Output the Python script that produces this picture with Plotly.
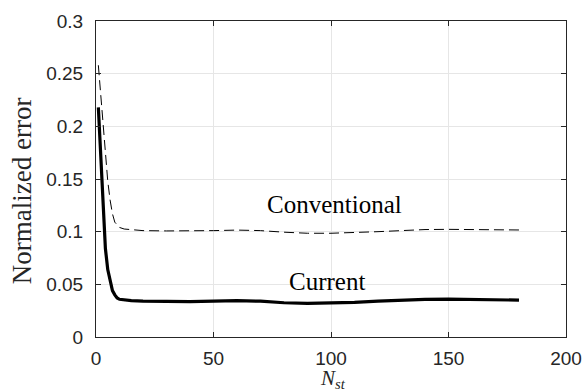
import plotly.graph_objects as go

x_conv = [1, 2, 3, 4, 5, 6, 7, 8, 9, 10, 12, 15, 20, 30, 40, 50, 60, 70, 80, 90,
          100, 110, 120, 130, 140, 150, 160, 170, 180]
y_conv = [0.258, 0.232, 0.202, 0.172, 0.148, 0.130, 0.117, 0.109, 0.106, 0.104,
          0.1025, 0.1018, 0.101, 0.1007, 0.1007, 0.101, 0.1015, 0.101, 0.0995, 0.0985,
          0.0985, 0.099, 0.100, 0.101, 0.102, 0.1022, 0.1022, 0.102, 0.1016]

x_curr = [1, 2, 3, 4, 5, 6, 7, 8, 9, 10, 12, 15, 20, 30, 40, 50, 60, 70, 80, 90,
          100, 110, 120, 130, 140, 150, 160, 170, 180]
y_curr = [0.218, 0.170, 0.118, 0.084, 0.064, 0.052, 0.044, 0.040, 0.037, 0.0358,
          0.035, 0.0345, 0.034, 0.0335, 0.0335, 0.034, 0.0345, 0.034, 0.0325, 0.032,
          0.0322, 0.0328, 0.034, 0.035, 0.0357, 0.036, 0.0358, 0.0355, 0.035]

x_ticks = [0, 50, 100, 150, 200]
y_ticks = [0, 0.05, 0.1, 0.15, 0.2, 0.25, 0.3]
y_tick_text = ["0", "0.05", "0.1", "0.15", "0.2", "0.25", "0.3"]

label_conv = "Conventional"
label_curr = "Current"
x_title = "<i>N</i><sub><i>st</i></sub>"
y_title = "Normalized error"

serif = "Liberation Serif, DejaVu Serif, serif"
sans = "Liberation Sans, Arial, sans-serif"

fig = go.Figure()
fig.add_trace(go.Scatter(x=x_conv, y=y_conv, mode="lines",
                         line=dict(color="black", width=1, dash="10px,5px"),
                         name=label_conv, showlegend=False))
fig.add_trace(go.Scatter(x=x_curr, y=y_curr, mode="lines",
                         line=dict(color="black", width=3.2),
                         name=label_curr, showlegend=False))

fig.add_annotation(x=101.5, y=0.126, text=label_conv, showarrow=False,
                   font=dict(family=serif, size=25, color="black"))
fig.add_annotation(x=98.5, y=0.0525, text=label_curr, showarrow=False,
                   font=dict(family=serif, size=25, color="black"))

fig.add_annotation(xref="paper", yref="paper", x=-0.157, y=0.462, text=y_title,
                   textangle=-90, showarrow=False, xanchor="center", yanchor="middle",
                   font=dict(family=serif, size=27, color="#262626"))
fig.add_annotation(xref="paper", yref="paper", x=0.505, y=-0.087, text=x_title,
                   showarrow=False, xanchor="center", yanchor="top",
                   font=dict(family=serif, size=21, color="#262626"))

axis_common = dict(showline=True, linecolor="#262626", linewidth=1, mirror="ticks",
                   ticks="inside", ticklen=5, tickcolor="#262626", automargin=False,
                   showgrid=True, gridcolor="#e6e6e6", gridwidth=1, zeroline=False,
                   tickfont=dict(family=sans, size=19, color="#262626"))

fig.update_xaxes(range=[0, 200], tickvals=x_ticks, ticklabelstandoff=4, **axis_common)
fig.update_yaxes(range=[0, 0.3], tickvals=y_ticks, ticktext=y_tick_text,
                 ticklabelstandoff=8, **axis_common)

fig.update_layout(width=582, height=391,
                  margin=dict(l=96, r=16, t=21, b=54),
                  paper_bgcolor="white", plot_bgcolor="white")

fig.write_html("out.html",
               config={"displayModeBar": False},
               post_script="document.body.style.margin='0';"
                           "document.body.style.overflow='hidden';")
